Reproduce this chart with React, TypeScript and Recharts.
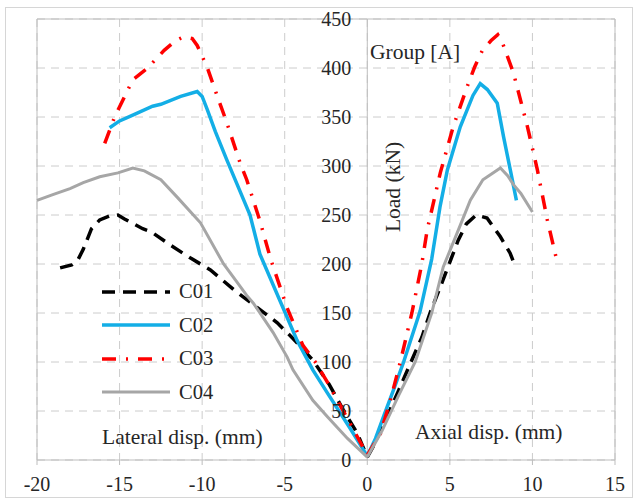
import { LineChart, Line, XAxis, YAxis, CartesianGrid, ReferenceLine, Legend } from 'recharts';

// [disp (mm), load (kN)]; lateral branch on the left, axial on the right
const C01_LATERAL = [
  [-18.6, 196], [-17.9, 199], [-17.5, 205], [-17.2, 215], [-16.7, 236], [-16.2, 245], [-15.6, 249],
  [-15.1, 250], [-14.7, 246], [-13.6, 236], [-13.1, 233], [-11.9, 219], [-10.7, 206], [-9.5, 194],
  [-8.1, 174], [-6.7, 156], [-5.45, 140], [-4.5, 124], [-3.3, 102], [-2.3, 77], [-1.45, 51], [-0.6, 27], [0, 3],
];
const C01_AXIAL = [
  [0, 3], [0.4, 15], [0.9, 34], [1.4, 52], [1.9, 71], [2.7, 102], [3.3, 125], [3.8, 150], [4.5, 180],
  [5.0, 202], [5.5, 224], [6.0, 241], [6.6, 250], [7.25, 247], [8.05, 228], [8.65, 211], [8.95, 198],
];

const C02_LATERAL = [
  [-15.6, 339], [-15, 346], [-14.2, 352], [-13, 361], [-12.5, 363], [-11.3, 371], [-10.3, 376],
  [-10, 371], [-9.7, 358], [-9.2, 335], [-8.5, 306], [-7.9, 282], [-7.1, 250], [-6.5, 210],
  [-5.3, 163], [-4.25, 122], [-3.3, 92], [-2.4, 68], [-1.1, 34], [0, 4],
];
const C02_AXIAL = [
  [0, 4], [0.5, 22], [1.0, 45], [1.6, 72], [2.2, 100], [3.2, 152], [3.9, 205], [4.4, 258],
  [4.85, 296], [5.63, 340], [6.4, 372], [6.84, 384], [7.27, 378], [7.87, 364], [8.25, 330],
  [8.66, 296], [9.03, 265],
];

const C03_LATERAL = [
  [-15.9, 323], [-15.3, 350], [-14.2, 388], [-13.3, 400], [-12.3, 418], [-11.6, 428], [-11.1, 432],
  [-10.6, 430], [-10.3, 423], [-9.7, 401], [-9.1, 372], [-8.5, 344], [-7.7, 303], [-7.3, 286],
  [-6.5, 244], [-5.85, 205], [-4.85, 155], [-3.9, 117], [-3.15, 100], [-2.4, 79], [-1.0, 36], [0, 5],
];
const C03_AXIAL = [
  [0, 5], [0.8, 27], [1.4, 61], [2.0, 100], [2.7, 150], [3.3, 200], [3.63, 235], [4.42, 293],
  [5.2, 340], [6.05, 381], [6.5, 401], [6.97, 418], [7.5, 428], [7.9, 434], [8.2, 425],
  [8.85, 395], [9.7, 340], [10.3, 296], [10.9, 245], [11.5, 202],
];

const C04_LATERAL = [
  [-20, 265], [-19, 271], [-18, 277], [-17.2, 283], [-16.2, 289], [-15.1, 293], [-14.2, 298],
  [-13.5, 295], [-12.5, 286], [-11.5, 268], [-10.1, 242], [-8.7, 200], [-7.3, 168], [-6.9, 160],
  [-5.7, 130], [-4.85, 105], [-4.5, 92], [-3.3, 61], [-2.4, 44], [-1.2, 22], [0, 3],
];
const C04_AXIAL = [
  [0, 3], [0.9, 30], [1.9, 66], [2.9, 100], [3.9, 150], [4.6, 197], [5.45, 232], [6.24, 265],
  [7.0, 286], [8.06, 298], [8.5, 290], [8.85, 281], [9.3, 272], [10.0, 253],
];

const X_TICKS = [-20, -15, -10, -5, 0, 5, 10, 15];
const Y_TICKS = [0, 50, 100, 150, 200, 250, 300, 350, 400, 450];

const SERIES = [
  { name: 'C01', lateral: C01_LATERAL, axial: C01_AXIAL, color: '#000000', dash: '13 8', width: 3.5 },
  { name: 'C02', lateral: C02_LATERAL, axial: C02_AXIAL, color: '#13aee6', dash: undefined, width: 3.5 },
  { name: 'C03', lateral: C03_LATERAL, axial: C03_AXIAL, color: '#ff0000', dash: '14 10 2 10', width: 3.5 },
  { name: 'C04', lateral: C04_LATERAL, axial: C04_AXIAL, color: '#a6a6a6', dash: undefined, width: 3 },
];

const W = 635;
const H = 500;
const Y_AXIS_W = 1;
const MARGIN = { top: 19, right: 20, bottom: 10, left: 36 };
const X_AXIS_H = 30;
const PLOT_LEFT = MARGIN.left + Y_AXIS_W;
const PLOT_W = W - PLOT_LEFT - MARGIN.right;
const X_MIN = -20;
const X_MAX = 15;
const ZERO_X = PLOT_LEFT + ((0 - X_MIN) / (X_MAX - X_MIN)) * PLOT_W;

const FONT = '"Liberation Serif", "Times New Roman", serif';
const AXIS_GRAY = '#bdbdbd';
const TEXT = '#262626';

const toPoints = (pairs: number[][]) => pairs.map(([x, y]) => ({ x, y }));

function YTick({ y, payload }: any) {
  return (
    <text x={ZERO_X - 16} y={y} textAnchor="end" dominantBaseline="central" fontSize={20} fontFamily={FONT} fill={TEXT}>
      {payload.value}
    </text>
  );
}

function LegendBox() {
  return (
    <div style={{ fontFamily: FONT, fontSize: 20.5, color: TEXT }}>
      {SERIES.map((s) => (
        <div key={s.name} style={{ display: 'flex', alignItems: 'center', height: 33.5 }}>
          <svg width={70} height={10}>
            <line x1={0} y1={5} x2={68} y2={5} stroke={s.color} strokeWidth={s.width} strokeDasharray={s.dash} />
          </svg>
          <span style={{ marginLeft: 7 }}>{s.name}</span>
        </div>
      ))}
    </div>
  );
}

const note = (left: number, top: number): React.CSSProperties => ({
  position: 'absolute',
  left,
  top,
  fontFamily: FONT,
  fontSize: 21.5,
  lineHeight: '22px',
  color: TEXT,
  whiteSpace: 'nowrap',
});

export default function App() {
  return (
    <div style={{ position: 'absolute', left: 0, top: 0, width: W, height: H, background: '#fff' }}>
      <div style={{ position: 'absolute', left: 5, top: 7, width: 626, height: 489, border: '1px solid #d6d6d6' }} />
      <LineChart width={W} height={H} margin={MARGIN} style={{ position: 'absolute', left: 0, top: 0 }}>
        <CartesianGrid stroke="#cccccc" strokeDasharray="8 6" />
        <XAxis
          dataKey="x"
          type="number"
          domain={[X_MIN, X_MAX]}
          ticks={X_TICKS}
          height={X_AXIS_H}
          allowDuplicatedCategory={false}
          axisLine={{ stroke: AXIS_GRAY }}
          tickLine={{ stroke: AXIS_GRAY }}
          tickSize={5}
          tickMargin={12}
          tick={{ fontSize: 20, fontFamily: FONT, fill: TEXT }}
        />
        <YAxis
          type="number"
          domain={[0, 450]}
          ticks={Y_TICKS}
          width={Y_AXIS_W}
          interval={0}
          axisLine={false}
          tickLine={false}
          tick={(props: any) => <YTick {...props} />}
        />
        <ReferenceLine x={X_MIN} stroke={AXIS_GRAY} />
        <ReferenceLine x={X_MAX} stroke={AXIS_GRAY} />
        <ReferenceLine y={450} stroke={AXIS_GRAY} />
        <ReferenceLine x={0} stroke={AXIS_GRAY} />
        <Legend
          layout="vertical"
          verticalAlign="middle"
          align="center"
          content={<LegendBox />}
          wrapperStyle={{ left: 102, top: 275, width: 130 }}
        />
        {SERIES.map((s) =>
          (['lateral', 'axial'] as const).map((branch) => (
            <Line
              key={s.name + branch}
              data={toPoints(s[branch])}
              dataKey="y"
              name={s.name}
              type="linear"
              stroke={s.color}
              strokeWidth={s.width}
              strokeDasharray={s.dash}
              dot={false}
              activeDot={false}
              legendType={branch === 'axial' ? 'none' : 'line'}
              isAnimationActive={false}
            />
          ))
        )}
      </LineChart>
      <div style={note(370, 41)}>Group [A]</div>
      <div style={note(102, 426)}>Lateral disp. (mm)</div>
      <div style={note(415, 421)}>Axial disp. (mm)</div>
      <div
        style={{
          ...note(393, 187),
          transform: 'translate(-50%, -50%) rotate(-90deg)',
        }}
      >
        Load (kN)
      </div>
    </div>
  );
}
